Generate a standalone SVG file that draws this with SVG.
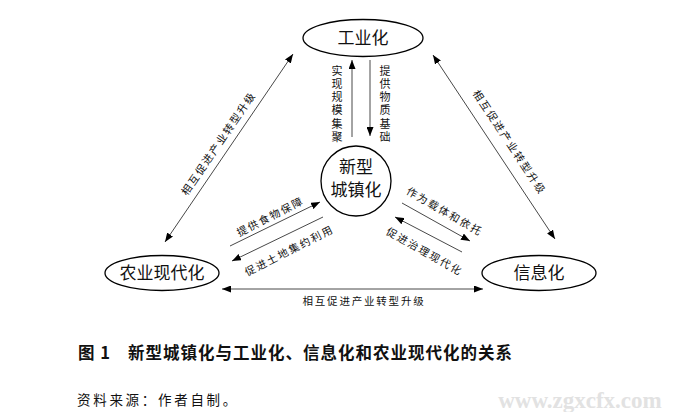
<svg xmlns="http://www.w3.org/2000/svg" width="700" height="412" viewBox="0 0 700 412">
<style>
.node ellipse, .node circle { fill: #fff; stroke: #000; stroke-width: 1.3; }
.nlabel { font-family: "Noto Sans CJK SC", "Noto Sans", sans-serif; font-size: 17px; fill: #111; text-anchor: middle; }
.conn line { stroke: #333; stroke-width: 0.9; }
.elabel { font-family: "Noto Sans CJK SC", "Noto Sans", sans-serif; font-size: 10.5px; fill: #111; text-anchor: middle; dominant-baseline: central; letter-spacing: 1.8px; }
.vlabel { font-family: "Noto Sans CJK SC", "Noto Sans", sans-serif; font-size: 11px; fill: #111; text-anchor: middle; }
.caption { font-family: "Noto Sans CJK SC", "Noto Sans", sans-serif; font-size: 16.5px; font-weight: 700; fill: #111; letter-spacing: 1px; }
.source { font-family: "Noto Sans CJK SC", "Noto Sans", sans-serif; font-size: 13.5px; fill: #111; letter-spacing: 2.7px; }
</style>
<defs>
<marker id="ah" viewBox="0 0 10 10" refX="10" refY="5" markerUnits="userSpaceOnUse" markerWidth="9" markerHeight="7" orient="auto-start-reverse" preserveAspectRatio="none">
<path d="M0,0 L10,5 L0,10 z" fill="#000"/>
</marker>
</defs>
<rect width="700" height="412" fill="#fff"/>

<g id="connectors" class="conn">
<line x1="165" y1="242" x2="293" y2="54" marker-start="url(#ah)" marker-end="url(#ah)"/>
<line x1="433" y1="55" x2="555" y2="239" marker-start="url(#ah)" marker-end="url(#ah)"/>
<line x1="222" y1="289" x2="483" y2="289" marker-start="url(#ah)" marker-end="url(#ah)"/>
<line x1="352" y1="137" x2="352" y2="60" marker-end="url(#ah)"/>
<line x1="370" y1="60" x2="370" y2="136" marker-end="url(#ah)"/>
<line x1="230" y1="246" x2="320" y2="202" marker-end="url(#ah)"/>
<line x1="323" y1="217" x2="232" y2="261" marker-end="url(#ah)"/>
<line x1="402" y1="203" x2="470" y2="241" marker-end="url(#ah)"/>
<line x1="462" y1="252" x2="395" y2="217" marker-end="url(#ah)"/>
</g>

<g id="edge-labels">
<text class="elabel" transform="translate(218,143) rotate(-55.7)">相互促进产业转型升级</text>
<text class="elabel" transform="translate(510,142) rotate(56.5)">相互促进产业转型升级</text>
<text class="elabel" transform="translate(364,300)">相互促进产业转型升级</text>
<text class="elabel" transform="translate(270,216) rotate(-27)">提供食物保障</text>
<text class="elabel" transform="translate(289,250) rotate(-27)">促进土地集约利用</text>
<text class="elabel" transform="translate(445,211) rotate(30)">作为载体和依托</text>
<text class="elabel" transform="translate(425,251) rotate(29.5)">促进治理现代化</text>
<text class="vlabel" x="337 337 337 337 337 337" y="75 88 101 114 128 141">实现规模集聚</text>
<text class="vlabel" x="385 385 385 385 385 385" y="75 88 101 114 128 141">提供物质基础</text>
</g>

<g id="node-industrialization" class="node">
<ellipse cx="363" cy="38" rx="60" ry="18.5"/>
<text class="nlabel" x="363" y="44">工业化</text>
</g>
<g id="node-urbanization" class="node">
<circle cx="356" cy="181" r="35"/>
<text class="nlabel" x="356" y="173">新型</text>
<text class="nlabel" x="356" y="196">城镇化</text>
</g>
<g id="node-agriculture" class="node">
<ellipse cx="162" cy="273" rx="57" ry="17.5"/>
<text class="nlabel" x="162" y="279">农业现代化</text>
</g>
<g id="node-informatization" class="node">
<ellipse cx="539" cy="273" rx="57" ry="17.5"/>
<text class="nlabel" x="539" y="279">信息化</text>
</g>

<g id="caption">
<text class="caption" x="78" y="359">图 1</text>
<text class="caption" x="128" y="359">新型城镇化与工业化、信息化和农业现代化的关系</text>
<text class="source" x="77" y="405">资料来源：作者自制。</text>
<text x="580" y="408" font-family="Liberation Serif, serif" font-size="23" font-weight="700" fill="#e2e2e2" text-anchor="middle">www.zgxcfx.com</text>
</g>
</svg>
